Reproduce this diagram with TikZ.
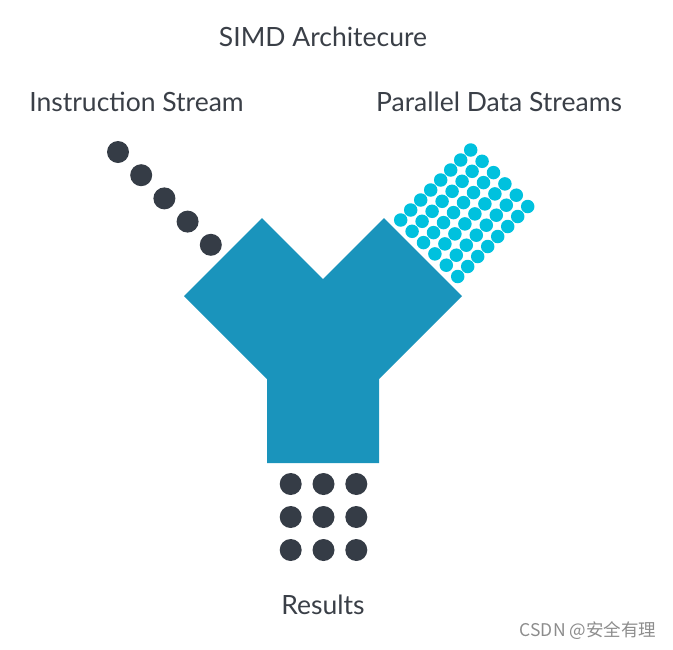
\documentclass[tikz,border=0pt]{standalone}
\usepackage{fontspec}
\setmainfont{Lato}
\newfontfamily\cjkfont{Noto Sans CJK SC}
\usepackage{tikz}

\definecolor{ybody}{HTML}{1A94BC}
\definecolor{dotdark}{HTML}{353C46}
\definecolor{dotcyan}{HTML}{00C1DE}
\definecolor{textdark}{HTML}{3A3F47}

\begin{document}
\begin{tikzpicture}[x=1pt, y=-1pt,
    dot/.style={
        % The shape:
        circle,
        % The size:
        minimum size=22pt,
        inner sep=0pt,
        % The filling
        fill=dotdark
    },
    datadot/.style={
        circle,
        minimum size=13.5pt,
        inner sep=0pt,
        fill=dotcyan
    },
    label/.style={
        % Font
        font=\fontsize{26.5}{30}\selectfont,
        text=textdark,
        inner sep=0pt
    }]

    \useasboundingbox (0,0) rectangle (673,649);

    % The Y-shaped processor
    \fill[ybody] (184,296) -- (262,218) -- (323,279) -- (384,218) -- (462,296)
        -- (379,379) -- (379,463) -- (267,463) -- (267,379) -- cycle;

    % Instruction stream
    \foreach \i in {0,...,4}
    {
        \node [dot] (instr-\i) at (118+23.2*\i,152+23.2*\i) {};
    }

    % Parallel data streams
    \foreach \i in {0,...,5}
        \foreach \j in {0,...,7}
        {
            \node [datadot] (data-\i-\j) at (470.7+11.4*\i-10*\j,150+11.3*\i+10*\j) {};
        }

    % Results
    \foreach \x/\xi in {290.7/1, 323.5/2, 356.3/3}
        \foreach \y/\yi in {484/1, 517/2, 550/3}
        {
            \node [dot] (res-\xi-\yi) at (\x,\y) {};
        }

    \node [label] (title)   at (323,37)  {SIMD Architecure};
    \node [label] (instr)   at (136.5,102) {Instruction Stream};
    \node [label] (data)    at (499,102) {Parallel Data Streams};
    \node [label] (results) at (323,605) {Results};
    \node [font=\cjkfont\fontsize{17.5}{20}\selectfont, text=black!45, inner sep=0pt] (mark) at (588,631) {CSDN @安全有理};
\end{tikzpicture}
\end{document}
